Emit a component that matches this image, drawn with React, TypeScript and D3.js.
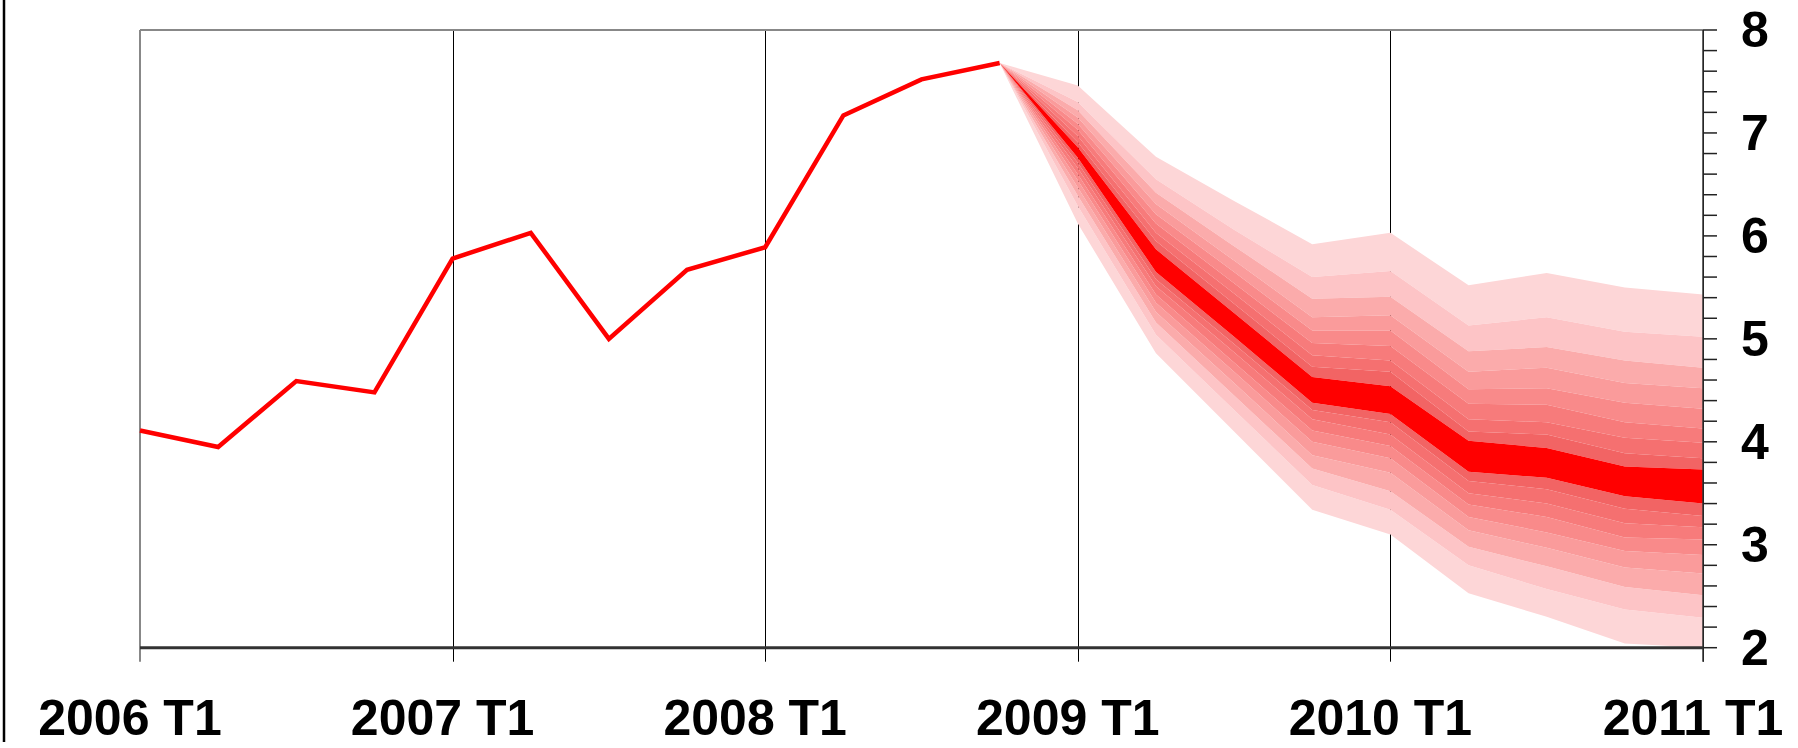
import React from 'react';
import * as d3 from 'd3';

// quarterly series, index 0 = 2006 T1 ... 20 = 2011 T1
const tickLabels = ['2006 T1', '2007 T1', '2008 T1', '2009 T1', '2010 T1', '2011 T1'];
const tickIndex = [0, 4, 8, 12, 16, 20];
const yTicks = [2, 3, 4, 5, 6, 7, 8];

// observed path (2006 T1 .. 2008 T4)
const history = [4.11, 3.95, 4.59, 4.48, 5.78, 6.03, 5.0, 5.67, 5.89, 7.17, 7.52, 7.68];

// fan quarters (2008 T4 .. 2011 T1)
const fanIndex = [11, 12, 13, 14, 15, 16, 17, 18, 19, 20];
// upper bounds, central band first then outwards (10% .. 90%)
const fanUpper = [
  [7.68, 7.68, 7.68, 7.68, 7.68, 7.68, 7.68, 7.68, 7.68],
  [6.86, 6.91, 6.97, 7.03, 7.09, 7.15, 7.22, 7.3, 7.46],
  [5.87, 5.95, 6.03, 6.12, 6.21, 6.31, 6.42, 6.55, 6.77],
  [5.25, 5.34, 5.44, 5.54, 5.65, 5.76, 5.9, 6.06, 6.34],
  [4.63, 4.73, 4.84, 4.96, 5.08, 5.21, 5.39, 5.6, 5.92],
  [4.54, 4.68, 4.79, 4.93, 5.08, 5.23, 5.41, 5.66, 6.03],
  [4.01, 4.1, 4.22, 4.37, 4.51, 4.68, 4.88, 5.13, 5.52],
  [3.94, 4.07, 4.19, 4.36, 4.52, 4.72, 4.92, 5.21, 5.64],
  [3.76, 3.89, 4.04, 4.19, 4.38, 4.57, 4.79, 5.07, 5.5],
  [3.73, 3.84, 3.99, 4.13, 4.32, 4.52, 4.72, 5.02, 5.43],
];
// lower bounds, central band first then outwards
const fanLower = [
  [7.68, 7.68, 7.68, 7.68, 7.68, 7.68, 7.68, 7.68, 7.68],
  [6.76, 6.71, 6.66, 6.6, 6.54, 6.47, 6.39, 6.29, 6.12],
  [5.65, 5.58, 5.51, 5.43, 5.35, 5.26, 5.16, 5.04, 4.86],
  [5.02, 4.95, 4.87, 4.77, 4.68, 4.57, 4.45, 4.31, 4.1],
  [4.38, 4.31, 4.22, 4.11, 4.0, 3.87, 3.74, 3.58, 3.34],
  [4.27, 4.19, 4.07, 3.96, 3.84, 3.7, 3.52, 3.34, 3.1],
  [3.71, 3.62, 3.5, 3.39, 3.27, 3.14, 2.98, 2.8, 2.53],
  [3.65, 3.54, 3.4, 3.27, 3.12, 2.97, 2.79, 2.57, 2.3],
  [3.47, 3.35, 3.21, 3.07, 2.94, 2.78, 2.59, 2.37, 2.04],
  [3.4, 3.28, 3.17, 3.05, 2.9, 2.72, 2.51, 2.29, 2.0],
];
const bandColors = ['#ff0000', '#f26464', '#f57070', '#f77b7b', '#f98a8a', '#fa9b9b', '#fbabab', '#fdc4c6', '#fdd6d7'];

const W = 1798;
const H = 748;
const left = 140;
const right = 1703;
const top = 30;
const bottom = 647.7;
const font = '"Liberation Sans", Arial, sans-serif';

export default function App() {
  const x = d3.scaleLinear().domain([0, 20]).range([left, right]);
  const y = d3.scaleLinear().domain([2, 8]).range([bottom, top]);
  const crisp = (v: number) => Math.round(v) + 0.5;

  const line = d3
    .line<number>()
    .x((_, i) => x(i))
    .y(d => y(d));

  // one area per band: between bound k0 of a and bound k1 of b
  const bandArea = (a: number[][], b: number[][], k0: number, k1: number) =>
    d3
      .area<number>()
      .x(d => x(d))
      .y0((_, i) => y(a[i][k0]))
      .y1((_, i) => y(b[i][k1]))(fanIndex);

  const bands: { d: string; fill: string }[] = [];
  for (let k = 8; k >= 1; k--) {
    bands.push({ d: bandArea(fanUpper, fanUpper, k - 1, k) || '', fill: bandColors[k] });
    bands.push({ d: bandArea(fanLower, fanLower, k - 1, k) || '', fill: bandColors[k] });
  }
  bands.push({ d: bandArea(fanLower, fanUpper, 0, 0) || '', fill: bandColors[0] });

  const minor = d3.range(2, 8.001, 0.2);

  return (
    <svg width={W} height={H} style={{ position: 'absolute', left: 0, top: 0, background: '#fff' }}>
      {/* outer frame stub on the left */}
      <line x1={4} x2={4} y1={0} y2={742} stroke="#000" strokeWidth={2.5} />

      {/* year grid lines + ticks below axis */}
      {tickIndex.map(t => (
        <line
          key={t}
          x1={t === 0 ? x(t) : crisp(x(t))}
          x2={t === 0 ? x(t) : crisp(x(t))}
          y1={top}
          y2={bottom + 14}
          stroke={t === 0 ? '#888' : '#000'}
          strokeWidth={t === 0 ? 2 : 1}
        />
      ))}
      <line x1={left} x2={right} y1={top} y2={top} stroke="#888" strokeWidth={2} />

      {/* fan */}
      {bands.map((b, i) => (
        <path key={i} d={b.d} fill={b.fill} />
      ))}

      {/* observed path */}
      <path d={line(history) || ''} fill="none" stroke="#ff0000" strokeWidth={4.5} strokeLinejoin="miter" />

      {/* axes */}
      <line x1={left} x2={right} y1={bottom} y2={bottom} stroke="#333" strokeWidth={3} />
      <line x1={right} x2={right} y1={top} y2={bottom + 14} stroke="#333" strokeWidth={1.5} />
      {minor.map((v, i) => (
        <line key={i} x1={right} x2={right + 14} y1={y(v)} y2={y(v)} stroke="#222" strokeWidth={1.5} />
      ))}
      {yTicks.map(v => (
        <text key={v} x={1741} y={y(v) + 17} fontFamily={font} fontWeight="bold" fontSize={50} fill="#000">
          {v}
        </text>
      ))}
      {tickIndex.map((t, i) => (
        <text
          key={t}
          x={x(t) - 10}
          y={735}
          textAnchor="middle"
          fontFamily={font}
          fontWeight="bold"
          fontSize={50}
          fill="#000"
        >
          {tickLabels[i]}
        </text>
      ))}
    </svg>
  );
}
